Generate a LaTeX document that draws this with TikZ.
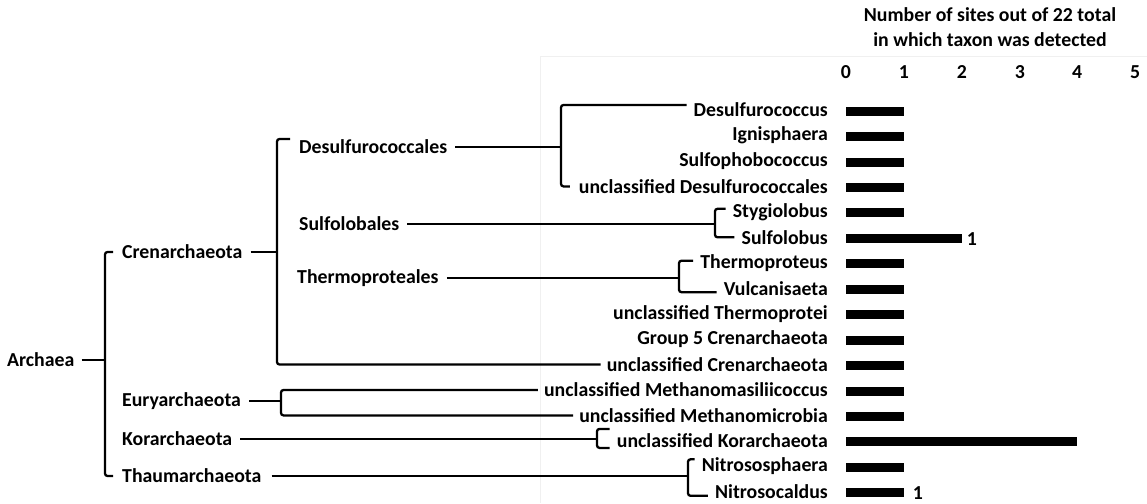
\documentclass[tikz,border=0pt]{standalone}
\usepackage{fontspec}
\setmainfont{Carlito}
\usetikzlibrary{positioning}
\begin{document}
\begin{tikzpicture}[x=1pt,y=-1pt,
  every node/.style={font=\bfseries\fontsize{19.8}{25}\selectfont, inner sep=1pt},
  leaf/.style={anchor=east},
  group/.style={anchor=west},
  br/.style={line width=2.3pt, rounded corners=2.5pt},
  bar/.style={fill=black}]
\useasboundingbox (0,0) rectangle (1147,503);
\draw[black!6, line width=1pt] (540,503) |- (1147,57);

% axis
\node[align=center] (title) at (990,27) {Number of sites out of 22 total\\in which taxon was detected};
\node (tick0) at (846,72) {0};
\node (tick1) at (904,72) {1};
\node (tick2) at (962,72) {2};
\node (tick3) at (1020,72) {3};
\node (tick4) at (1077,72) {4};
\node (tick5) at (1135,72) {5};

% groups
\node[group] (archaea) at (6,360) {Archaea};
\node[group] (cren) at (121,252) {Crenarchaeota};
\node[group] (eury) at (121,401) {Euryarchaeota};
\node[group] (kor) at (121,439) {Korarchaeota};
\node[group] (thaum) at (121,476) {Thaumarchaeota};
\node[group] (desulfales) at (298,147) {Desulfurococcales};
\node[group] (sulfales) at (298,224) {Sulfolobales};
\node[group] (thermales) at (296,278) {Thermoproteales};

% taxa
\node[leaf] (desulfococ) at (829,110) {Desulfurococcus};
\node[leaf] (ignis) at (829,135.5) {Ignisphaera};
\node[leaf] (sulfopho) at (829,161) {Sulfophobococcus};
\node[leaf] (uncldesulf) at (829,186.4) {unclassified Desulfurococcales};
\node[leaf] (stygio) at (829,211.8) {Stygiolobus};
\node[leaf] (sulfolob) at (829,237.3) {Sulfolobus};
\node[leaf] (thermoprot) at (829,262.7) {Thermoproteus};
\node[leaf] (vulcan) at (829,288.2) {Vulcanisaeta};
\node[leaf] (unclthermo) at (829,313.6) {unclassified Thermoprotei};
\node[leaf] (grpfive) at (829,339) {Group 5 Crenarchaeota};
\node[leaf] (unclcren) at (829,364.5) {unclassified Crenarchaeota};
\node[leaf] (methmasil) at (829,390) {unclassified Methanomasiliicoccus};
\node[leaf] (methmicro) at (829,415.4) {unclassified Methanomicrobia};
\node[leaf] (unclkor) at (829,440.9) {unclassified Korarchaeota};
\node[leaf] (nitsph) at (829,466.3) {Nitrososphaera};
\node[leaf] (nitcal) at (829,491.8) {Nitrosocaldus};

% brackets
\coordinate (jarch) at (105,360);
\coordinate (jcren) at (277,252);
\coordinate (jdes) at (561,147);
\coordinate (jsul) at (715,224);
\coordinate (jthe) at (679,278);
\coordinate (jeur) at (281,401);
\coordinate (jkor) at (597,439);
\coordinate (jtha) at (688,476);

\draw[br, shorten <=6pt] (archaea.east) -- (jarch);
\draw[br] ([xshift=-8pt]cren.west) -| (jarch) |- ([xshift=-8pt]thaum.west);

\draw[br, shorten <=7pt] (cren.east) -- (jcren);
\draw[br] ([xshift=-8pt,yshift=8pt]desulfales.west) -| (jcren) |- ([xshift=-5pt]unclcren.west);

\draw[br, shorten <=7pt] (desulfales.east) -- (jdes);
\draw[br] ([xshift=-6pt,yshift=5pt]desulfococ.west) -| (jdes) |- ([xshift=-8pt]uncldesulf.west);

\draw[br, shorten <=7pt] (sulfales.east) -- (jsul);
\draw[br] ([xshift=-6pt,yshift=3pt]stygio.west) -| (jsul) |- ([xshift=-6pt]sulfolob.west);

\draw[br, shorten <=7pt] (thermales.east) -- (jthe);
\draw[br] ([xshift=-6pt,yshift=2pt]thermoprot.west) -| (jthe) |- ([xshift=-6pt,yshift=-4pt]vulcan.west);

\draw[br, shorten <=7pt] (eury.east) -- (jeur);
\draw[br] ([xshift=-5pt]methmasil.west) -| (jeur) |- ([xshift=-5pt]methmicro.west);

\draw[br, shorten <=7pt] (kor.east) -- (jkor);
\draw[br] ([xshift=-6pt,yshift=12pt]unclkor.west) -| (jkor) |- ([xshift=-6pt,yshift=-7pt]unclkor.west);

\draw[br, shorten <=9pt] (thaum.east) -- (jtha);
\draw[br] ([xshift=-6pt,yshift=7pt]nitsph.west) -| (jtha) |- ([xshift=-6pt,yshift=-4pt]nitcal.west);

% bars
\fill[bar] (846,106.5) rectangle +(58,9);
\fill[bar] (846,132) rectangle +(58,9);
\fill[bar] (846,157.5) rectangle +(58,9);
\fill[bar] (846,183) rectangle +(58,9);
\fill[bar] (846,208.3) rectangle +(58,9);
\fill[bar] (846,233.8) rectangle +(116,9);
\fill[bar] (846,259.2) rectangle +(58,9);
\fill[bar] (846,284.7) rectangle +(58,9);
\fill[bar] (846,310.1) rectangle +(58,9);
\fill[bar] (846,335.5) rectangle +(58,9);
\fill[bar] (846,361) rectangle +(58,9);
\fill[bar] (846,386.5) rectangle +(58,9);
\fill[bar] (846,411.9) rectangle +(58,9);
\fill[bar] (846,437.4) rectangle +(231,9);
\fill[bar] (846,462.8) rectangle +(58,9);
\fill[bar] (846,488.3) rectangle +(58,9);
\node (cntsulf) at (972,239) {1};
\node (cntnit) at (918,493) {1};
\end{tikzpicture}
\end{document}
